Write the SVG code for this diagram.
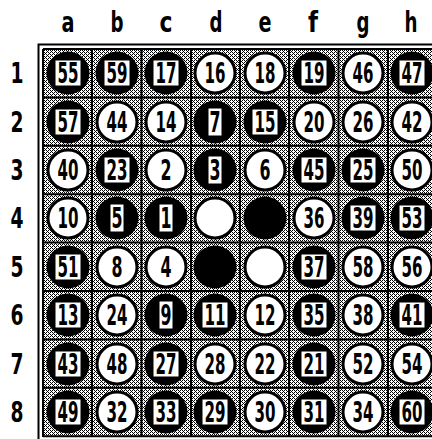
<svg xmlns="http://www.w3.org/2000/svg" width="432" height="439" viewBox="0 0 432 439">
<style>
.lbl{font-family:"DejaVu Sans Condensed","DejaVu Sans",sans-serif;font-weight:bold;font-size:28px;text-anchor:middle;fill:#000}
.b{fill:#000}
.w{fill:#fff;stroke:#000;stroke-width:3}
.box{fill:#fff;stroke:#000;stroke-width:1}
.n{font-family:"DejaVu Sans Condensed","DejaVu Sans",sans-serif;font-weight:bold;font-size:28px;text-anchor:middle;fill:#000}
.grid{stroke:#000;stroke-width:2;fill:none}
</style>
<defs>
<pattern id="dots" width="4" height="4" patternUnits="userSpaceOnUse">
<rect width="4" height="4" fill="#fff"/>
<rect x="0" y="0" width="1" height="1" fill="#000"/>
<rect x="2" y="0" width="1" height="1" fill="#000"/>
<rect x="1" y="1" width="1" height="1" fill="#000"/>
<rect x="0" y="2" width="1" height="1" fill="#000"/>
<rect x="2" y="2" width="1" height="1" fill="#000"/>
<rect x="3" y="3" width="1" height="1" fill="#000"/>
</pattern>
</defs>
<rect width="432" height="439" fill="#fff"/>
<g id="labels">
<text class="lbl" x="68" y="32" textLength="13" lengthAdjust="spacingAndGlyphs">a</text>
<text class="lbl" x="117" y="32" textLength="13" lengthAdjust="spacingAndGlyphs">b</text>
<text class="lbl" x="166" y="32" textLength="13" lengthAdjust="spacingAndGlyphs">c</text>
<text class="lbl" x="216" y="32" textLength="13" lengthAdjust="spacingAndGlyphs">d</text>
<text class="lbl" x="265" y="32" textLength="13" lengthAdjust="spacingAndGlyphs">e</text>
<text class="lbl" x="313" y="32" textLength="10" lengthAdjust="spacingAndGlyphs">f</text>
<text class="lbl" x="363" y="32" textLength="13" lengthAdjust="spacingAndGlyphs">g</text>
<text class="lbl" x="411" y="32" textLength="13" lengthAdjust="spacingAndGlyphs">h</text>
<text class="lbl" x="17" y="83" textLength="13" lengthAdjust="spacingAndGlyphs">1</text>
<text class="lbl" x="17" y="132" textLength="13" lengthAdjust="spacingAndGlyphs">2</text>
<text class="lbl" x="17" y="180" textLength="13" lengthAdjust="spacingAndGlyphs">3</text>
<text class="lbl" x="17" y="228" textLength="13" lengthAdjust="spacingAndGlyphs">4</text>
<text class="lbl" x="17" y="277" textLength="13" lengthAdjust="spacingAndGlyphs">5</text>
<text class="lbl" x="17" y="325" textLength="13" lengthAdjust="spacingAndGlyphs">6</text>
<text class="lbl" x="17" y="374" textLength="13" lengthAdjust="spacingAndGlyphs">7</text>
<text class="lbl" x="17" y="422" textLength="13" lengthAdjust="spacingAndGlyphs">8</text>
</g>
<g id="board">
<rect x="43" y="49" width="394" height="388" fill="url(#dots)"/>
<rect x="38.5" y="44.5" width="404" height="398" fill="none" stroke="#000" stroke-width="2"/>
<path class="grid" d="M43,49V437M92,49V437M141.5,49V437M191,49V437M240,49V437M289,49V437M338.5,49V437M388,49V437M43,49H437M43,97.4H437M43,145.8H437M43,194.2H437M43,242.6H437M43,291H437M43,339.4H437M43,387.8H437M43,436.2H437"/>
</g>
<g id="stones">
<!-- row 1 -->
<g id="a1" transform="translate(68,73)"><circle class="b" r="21.5"/><rect class="box" x="-13" y="-13" width="26" height="26"/><text class="n" y="10" textLength="21" lengthAdjust="spacingAndGlyphs">55</text></g>
<g id="b1" transform="translate(117,73)"><circle class="b" r="21.5"/><rect class="box" x="-13" y="-13" width="26" height="26"/><text class="n" y="10" textLength="21" lengthAdjust="spacingAndGlyphs">59</text></g>
<g id="c1" transform="translate(166,73)"><circle class="b" r="21.5"/><rect class="box" x="-13" y="-13" width="26" height="26"/><text class="n" y="10" textLength="21" lengthAdjust="spacingAndGlyphs">17</text></g>
<g id="d1" transform="translate(215,73)"><circle class="w" r="20"/><text class="n" y="10" textLength="21" lengthAdjust="spacingAndGlyphs">16</text></g>
<g id="e1" transform="translate(265,73)"><circle class="w" r="20"/><text class="n" y="10" textLength="21" lengthAdjust="spacingAndGlyphs">18</text></g>
<g id="f1" transform="translate(314,73)"><circle class="b" r="21.5"/><rect class="box" x="-13" y="-13" width="26" height="26"/><text class="n" y="10" textLength="21" lengthAdjust="spacingAndGlyphs">19</text></g>
<g id="g1" transform="translate(363,73)"><circle class="w" r="20"/><text class="n" y="10" textLength="21" lengthAdjust="spacingAndGlyphs">46</text></g>
<g id="h1" transform="translate(412,73)"><circle class="b" r="21.5"/><rect class="box" x="-13" y="-13" width="26" height="26"/><text class="n" y="10" textLength="21" lengthAdjust="spacingAndGlyphs">47</text></g>
<!-- row 2 -->
<g id="a2" transform="translate(68,122)"><circle class="b" r="21.5"/><rect class="box" x="-13" y="-13" width="26" height="26"/><text class="n" y="10" textLength="21" lengthAdjust="spacingAndGlyphs">57</text></g>
<g id="b2" transform="translate(117,122)"><circle class="w" r="20"/><text class="n" y="10" textLength="21" lengthAdjust="spacingAndGlyphs">44</text></g>
<g id="c2" transform="translate(166,122)"><circle class="w" r="20"/><text class="n" y="10" textLength="21" lengthAdjust="spacingAndGlyphs">14</text></g>
<g id="d2" transform="translate(215,122)"><circle class="b" r="21.5"/><rect class="box" x="-7" y="-14" width="14" height="28"/><text class="n" y="10" textLength="11" lengthAdjust="spacingAndGlyphs">7</text></g>
<g id="e2" transform="translate(265,122)"><circle class="b" r="21.5"/><rect class="box" x="-13" y="-13" width="26" height="26"/><text class="n" y="10" textLength="21" lengthAdjust="spacingAndGlyphs">15</text></g>
<g id="f2" transform="translate(314,122)"><circle class="w" r="20"/><text class="n" y="10" textLength="21" lengthAdjust="spacingAndGlyphs">20</text></g>
<g id="g2" transform="translate(363,122)"><circle class="w" r="20"/><text class="n" y="10" textLength="21" lengthAdjust="spacingAndGlyphs">26</text></g>
<g id="h2" transform="translate(412,122)"><circle class="w" r="20"/><text class="n" y="10" textLength="21" lengthAdjust="spacingAndGlyphs">42</text></g>
<!-- row 3 -->
<g id="a3" transform="translate(68,170)"><circle class="w" r="20"/><text class="n" y="10" textLength="21" lengthAdjust="spacingAndGlyphs">40</text></g>
<g id="b3" transform="translate(117,170)"><circle class="b" r="21.5"/><rect class="box" x="-13" y="-13" width="26" height="26"/><text class="n" y="10" textLength="21" lengthAdjust="spacingAndGlyphs">23</text></g>
<g id="c3" transform="translate(166,170)"><circle class="w" r="20"/><text class="n" y="10" textLength="11" lengthAdjust="spacingAndGlyphs">2</text></g>
<g id="d3" transform="translate(215,170)"><circle class="b" r="21.5"/><rect class="box" x="-7" y="-14" width="14" height="28"/><text class="n" y="10" textLength="11" lengthAdjust="spacingAndGlyphs">3</text></g>
<g id="e3" transform="translate(265,170)"><circle class="w" r="20"/><text class="n" y="10" textLength="11" lengthAdjust="spacingAndGlyphs">6</text></g>
<g id="f3" transform="translate(314,170)"><circle class="b" r="21.5"/><rect class="box" x="-13" y="-13" width="26" height="26"/><text class="n" y="10" textLength="21" lengthAdjust="spacingAndGlyphs">45</text></g>
<g id="g3" transform="translate(363,170)"><circle class="b" r="21.5"/><rect class="box" x="-13" y="-13" width="26" height="26"/><text class="n" y="10" textLength="21" lengthAdjust="spacingAndGlyphs">25</text></g>
<g id="h3" transform="translate(412,170)"><circle class="w" r="20"/><text class="n" y="10" textLength="21" lengthAdjust="spacingAndGlyphs">50</text></g>
<!-- row 4 -->
<g id="a4" transform="translate(68,218)"><circle class="w" r="20"/><text class="n" y="10" textLength="21" lengthAdjust="spacingAndGlyphs">10</text></g>
<g id="b4" transform="translate(117,218)"><circle class="b" r="21.5"/><rect class="box" x="-7" y="-14" width="14" height="28"/><text class="n" y="10" textLength="11" lengthAdjust="spacingAndGlyphs">5</text></g>
<g id="c4" transform="translate(166,218)"><circle class="b" r="21.5"/><rect class="box" x="-7" y="-14" width="14" height="28"/><text class="n" y="10" textLength="11" lengthAdjust="spacingAndGlyphs">1</text></g>
<g id="d4" transform="translate(215,218)"><circle class="w" r="20"/></g>
<g id="e4" transform="translate(265,218)"><circle class="b" r="21.5"/></g>
<g id="f4" transform="translate(314,218)"><circle class="w" r="20"/><text class="n" y="10" textLength="21" lengthAdjust="spacingAndGlyphs">36</text></g>
<g id="g4" transform="translate(363,218)"><circle class="b" r="21.5"/><rect class="box" x="-13" y="-13" width="26" height="26"/><text class="n" y="10" textLength="21" lengthAdjust="spacingAndGlyphs">39</text></g>
<g id="h4" transform="translate(412,218)"><circle class="b" r="21.5"/><rect class="box" x="-13" y="-13" width="26" height="26"/><text class="n" y="10" textLength="21" lengthAdjust="spacingAndGlyphs">53</text></g>
<!-- row 5 -->
<g id="a5" transform="translate(68,267)"><circle class="b" r="21.5"/><rect class="box" x="-13" y="-13" width="26" height="26"/><text class="n" y="10" textLength="21" lengthAdjust="spacingAndGlyphs">51</text></g>
<g id="b5" transform="translate(117,267)"><circle class="w" r="20"/><text class="n" y="10" textLength="11" lengthAdjust="spacingAndGlyphs">8</text></g>
<g id="c5" transform="translate(166,267)"><circle class="w" r="20"/><text class="n" y="10" textLength="11" lengthAdjust="spacingAndGlyphs">4</text></g>
<g id="d5" transform="translate(215,267)"><circle class="b" r="21.5"/></g>
<g id="e5" transform="translate(265,267)"><circle class="w" r="20"/></g>
<g id="f5" transform="translate(314,267)"><circle class="b" r="21.5"/><rect class="box" x="-13" y="-13" width="26" height="26"/><text class="n" y="10" textLength="21" lengthAdjust="spacingAndGlyphs">37</text></g>
<g id="g5" transform="translate(363,267)"><circle class="w" r="20"/><text class="n" y="10" textLength="21" lengthAdjust="spacingAndGlyphs">58</text></g>
<g id="h5" transform="translate(412,267)"><circle class="w" r="20"/><text class="n" y="10" textLength="21" lengthAdjust="spacingAndGlyphs">56</text></g>
<!-- row 6 -->
<g id="a6" transform="translate(68,315)"><circle class="b" r="21.5"/><rect class="box" x="-13" y="-13" width="26" height="26"/><text class="n" y="10" textLength="21" lengthAdjust="spacingAndGlyphs">13</text></g>
<g id="b6" transform="translate(117,315)"><circle class="w" r="20"/><text class="n" y="10" textLength="21" lengthAdjust="spacingAndGlyphs">24</text></g>
<g id="c6" transform="translate(166,315)"><circle class="b" r="21.5"/><rect class="box" x="-7" y="-14" width="14" height="28"/><text class="n" y="10" textLength="11" lengthAdjust="spacingAndGlyphs">9</text></g>
<g id="d6" transform="translate(215,315)"><circle class="b" r="21.5"/><rect class="box" x="-13" y="-13" width="26" height="26"/><text class="n" y="10" textLength="21" lengthAdjust="spacingAndGlyphs">11</text></g>
<g id="e6" transform="translate(265,315)"><circle class="w" r="20"/><text class="n" y="10" textLength="21" lengthAdjust="spacingAndGlyphs">12</text></g>
<g id="f6" transform="translate(314,315)"><circle class="b" r="21.5"/><rect class="box" x="-13" y="-13" width="26" height="26"/><text class="n" y="10" textLength="21" lengthAdjust="spacingAndGlyphs">35</text></g>
<g id="g6" transform="translate(363,315)"><circle class="w" r="20"/><text class="n" y="10" textLength="21" lengthAdjust="spacingAndGlyphs">38</text></g>
<g id="h6" transform="translate(412,315)"><circle class="b" r="21.5"/><rect class="box" x="-13" y="-13" width="26" height="26"/><text class="n" y="10" textLength="21" lengthAdjust="spacingAndGlyphs">41</text></g>
<!-- row 7 -->
<g id="a7" transform="translate(68,364)"><circle class="b" r="21.5"/><rect class="box" x="-13" y="-13" width="26" height="26"/><text class="n" y="10" textLength="21" lengthAdjust="spacingAndGlyphs">43</text></g>
<g id="b7" transform="translate(117,364)"><circle class="w" r="20"/><text class="n" y="10" textLength="21" lengthAdjust="spacingAndGlyphs">48</text></g>
<g id="c7" transform="translate(166,364)"><circle class="b" r="21.5"/><rect class="box" x="-13" y="-13" width="26" height="26"/><text class="n" y="10" textLength="21" lengthAdjust="spacingAndGlyphs">27</text></g>
<g id="d7" transform="translate(215,364)"><circle class="w" r="20"/><text class="n" y="10" textLength="21" lengthAdjust="spacingAndGlyphs">28</text></g>
<g id="e7" transform="translate(265,364)"><circle class="w" r="20"/><text class="n" y="10" textLength="21" lengthAdjust="spacingAndGlyphs">22</text></g>
<g id="f7" transform="translate(314,364)"><circle class="b" r="21.5"/><rect class="box" x="-13" y="-13" width="26" height="26"/><text class="n" y="10" textLength="21" lengthAdjust="spacingAndGlyphs">21</text></g>
<g id="g7" transform="translate(363,364)"><circle class="w" r="20"/><text class="n" y="10" textLength="21" lengthAdjust="spacingAndGlyphs">52</text></g>
<g id="h7" transform="translate(412,364)"><circle class="w" r="20"/><text class="n" y="10" textLength="21" lengthAdjust="spacingAndGlyphs">54</text></g>
<!-- row 8 -->
<g id="a8" transform="translate(68,412)"><circle class="b" r="21.5"/><rect class="box" x="-13" y="-13" width="26" height="26"/><text class="n" y="10" textLength="21" lengthAdjust="spacingAndGlyphs">49</text></g>
<g id="b8" transform="translate(117,412)"><circle class="w" r="20"/><text class="n" y="10" textLength="21" lengthAdjust="spacingAndGlyphs">32</text></g>
<g id="c8" transform="translate(166,412)"><circle class="b" r="21.5"/><rect class="box" x="-13" y="-13" width="26" height="26"/><text class="n" y="10" textLength="21" lengthAdjust="spacingAndGlyphs">33</text></g>
<g id="d8" transform="translate(215,412)"><circle class="b" r="21.5"/><rect class="box" x="-13" y="-13" width="26" height="26"/><text class="n" y="10" textLength="21" lengthAdjust="spacingAndGlyphs">29</text></g>
<g id="e8" transform="translate(265,412)"><circle class="w" r="20"/><text class="n" y="10" textLength="21" lengthAdjust="spacingAndGlyphs">30</text></g>
<g id="f8" transform="translate(314,412)"><circle class="b" r="21.5"/><rect class="box" x="-13" y="-13" width="26" height="26"/><text class="n" y="10" textLength="21" lengthAdjust="spacingAndGlyphs">31</text></g>
<g id="g8" transform="translate(363,412)"><circle class="w" r="20"/><text class="n" y="10" textLength="21" lengthAdjust="spacingAndGlyphs">34</text></g>
<g id="h8" transform="translate(412,412)"><circle class="b" r="21.5"/><rect class="box" x="-13" y="-13" width="26" height="26"/><text class="n" y="10" textLength="21" lengthAdjust="spacingAndGlyphs">60</text></g>
</g>
</svg>
